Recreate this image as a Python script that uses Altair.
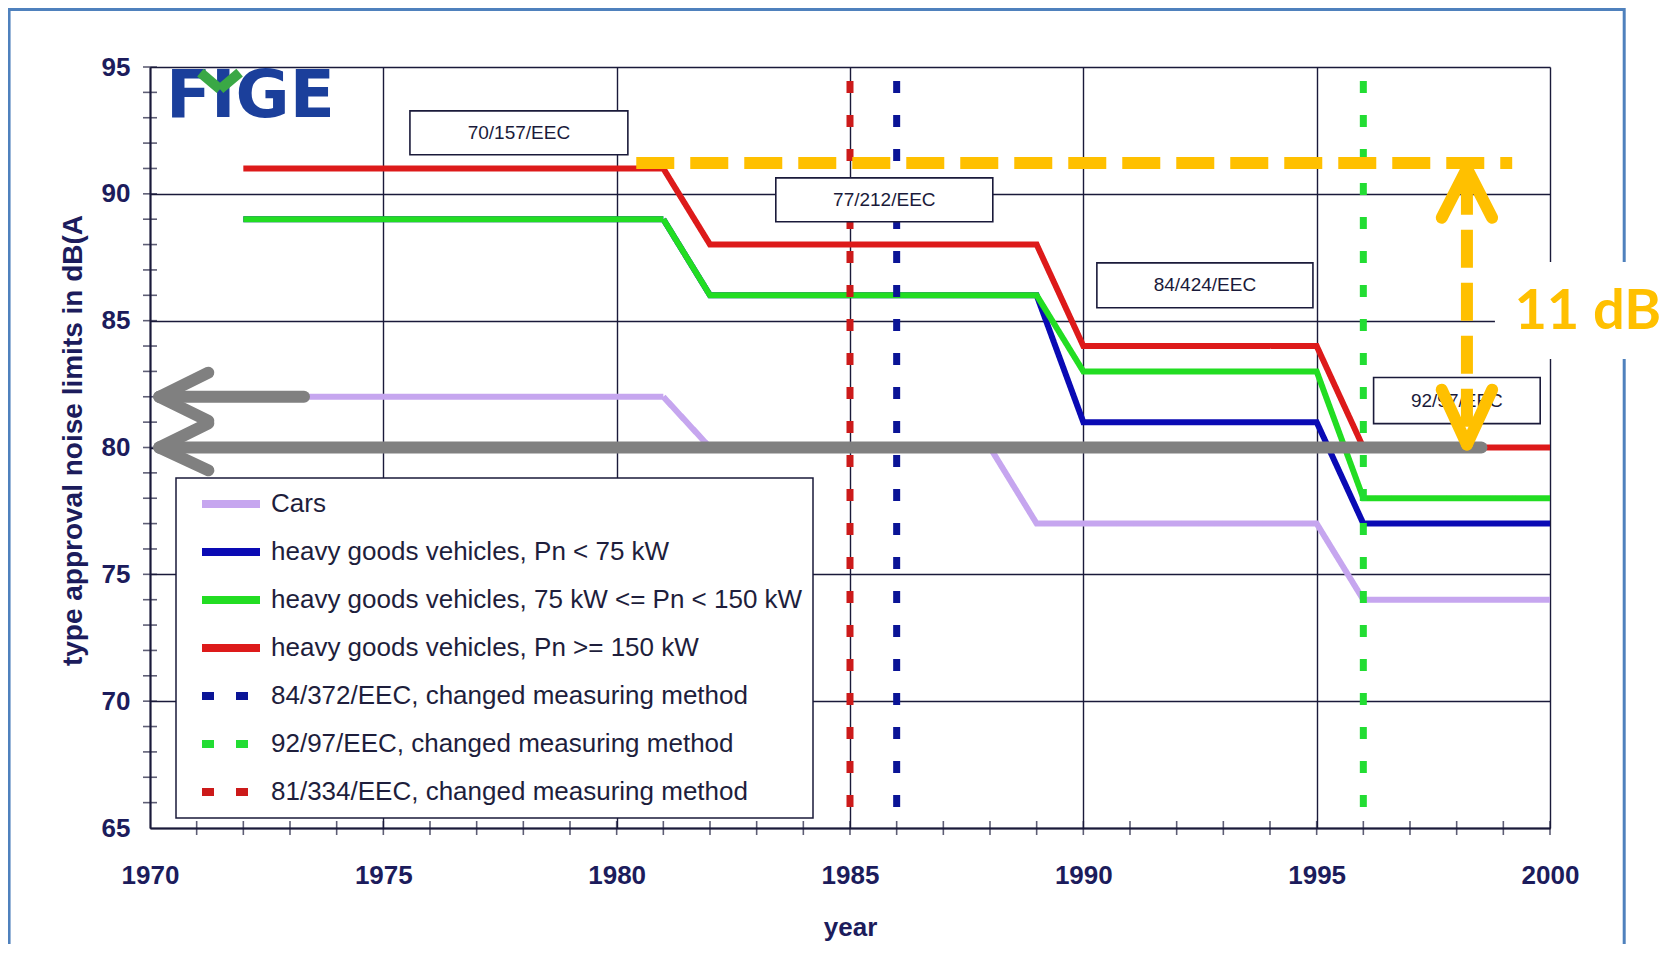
import altair as alt
import pandas as pd

# ---------------- data ----------------
series_names = [
    "Cars",
    "heavy goods vehicles, Pn < 75 kW",
    "heavy goods vehicles, 75 kW <= Pn < 150 kW",
    "heavy goods vehicles, Pn >= 150 kW",
    "84/372/EEC, changed measuring method",
    "92/97/EEC, changed measuring method",
    "81/334/EEC, changed measuring method",
]
series_colors = ["#c6a6ef", "#0a0ab4", "#22dd22", "#dd1a1a", "#0a1496", "#22dd33", "#cc1a1a"]
series_dash = [[1, 0], [1, 0], [1, 0], [1, 0], [12, 22], [12, 22], [12, 22]]

years_cars = [1972, 1981, 1982, 1988, 1989, 1995, 1996, 2000]
cars = [82, 82, 80, 80, 77, 77, 74, 74]
years_hgv = [1972, 1981, 1982, 1989, 1990, 1995, 1996, 2000]
hgv_small = [89, 89, 86, 86, 81, 81, 77, 77]
hgv_mid = [89, 89, 86, 86, 83, 83, 78, 78]
hgv_large = [91, 91, 88, 88, 84, 84, 80, 80]

method_years = [1986, 1996, 1985]
method_top = 94.45
method_bottom = 65

box_labels = ["70/157/EEC", "77/212/EEC", "84/424/EEC", "92/97/EEC"]
box_x0 = [1975.57, 1983.41, 1990.29, 1996.22]
box_x1 = [1980.24, 1988.06, 1994.92, 1999.79]
box_y0 = [91.54, 88.90, 85.51, 80.94]
box_y1 = [93.27, 90.63, 87.28, 82.76]

x_major = [1970, 1975, 1980, 1985, 1990, 1995, 2000]
y_major = [65, 70, 75, 80, 85, 90, 95]
x_minor = list(range(1971, 2001))
y_minor = list(range(66, 96))

# grey arrows (annotation)
grey_x = [1970.2, 1970.2, 1970.2, 1970.2, 1970.2, 1970.2]
grey_y = [80, 82, 82, 82, 80, 80]
grey_x2 = [1998.53, 1973.3, 1971.25, 1971.25, 1971.25, 1971.25]
grey_y2 = [80, 82, 82.95, 81.05, 80.95, 79.1]

# orange 11 dB annotation
orange_level = 91.22
orange_h = [1980.42, 1999.19]
orange_vx = 1998.22
orange_v = [90.67, 80.12]
orange_head_x = [1998.22, 1998.22, 1998.22, 1998.22]
orange_head_y = [91.0, 91.0, 80.12, 80.12]
orange_head_x2 = [1997.68, 1998.76, 1997.68, 1998.76]
orange_head_y2 = [89.06, 89.06, 82.28, 82.28]
note_text = "11 dB"
note_pos = (2000.81, 85.34)
note_bg = ([1998.82, 2003.5], [83.49, 87.31])

frame_x = [1966.98, 2001.59]
frame_y = [60.15, 97.27]

logo_text = "FIGE"
logo_pos = (1972.15, 93.03)
# green "V" on top of the logo's I
logo_v_x = [1971.08, 1971.92]
logo_v_x2 = [1971.50, 1971.50]
logo_v_y = [94.78, 94.78]
logo_v_y2 = [94.12, 94.12]

# ---------------- tables ----------------
rows = []
for name, xs_, ys_ in [
    (series_names[0], years_cars, cars),
    (series_names[1], years_hgv, hgv_small),
    (series_names[2], years_hgv, hgv_mid),
    (series_names[3], years_hgv, hgv_large),
]:
    for i, (a, b) in enumerate(zip(xs_, ys_)):
        rows.append({"series": name, "year": a, "value": b, "i": i})
lines_df = pd.DataFrame(rows)

methods_df = pd.DataFrame({
    "series": series_names[4:],
    "year": method_years,
    "top": [method_top] * 3,
    "bottom": [method_bottom] * 3,
})
boxes_df = pd.DataFrame({"label": box_labels, "x0": box_x0, "x1": box_x1, "y0": box_y0, "y1": box_y1})
boxes_df["xm"] = (boxes_df.x0 + boxes_df.x1) / 2
boxes_df["ym"] = (boxes_df.y0 + boxes_df.y1) / 2

xt_df = pd.DataFrame({"year": x_minor, "value": [65] * len(x_minor)})
yt_df = pd.DataFrame({"year": [1970] * len(y_minor), "value": y_minor})

grey_df = pd.DataFrame({"year": grey_x, "value": grey_y, "year2": grey_x2, "value2": grey_y2})
oh_df = pd.DataFrame({"year": [orange_h[0]], "year2": [orange_h[1]], "value": [orange_level], "value2": [orange_level]})
ov_df = pd.DataFrame({"year": [orange_vx], "year2": [orange_vx], "value": [orange_v[0]], "value2": [orange_v[1]]})
oa_df = pd.DataFrame({"year": orange_head_x, "value": orange_head_y, "year2": orange_head_x2, "value2": orange_head_y2})
bg_df = pd.DataFrame({"year": [note_bg[0][0]], "year2": [note_bg[0][1]], "value": [note_bg[1][0]], "value2": [note_bg[1][1]]})
note_df = pd.DataFrame({"year": [note_pos[0]], "value": [note_pos[1]], "t": [note_text]})
frame_df = pd.DataFrame({"year": [frame_x[0]], "year2": [frame_x[1]], "value": [frame_y[0]], "value2": [frame_y[1]]})
logo_df = pd.DataFrame({"year": [logo_pos[0]], "value": [logo_pos[1]], "t": [logo_text]})
logov_df = pd.DataFrame({"year": logo_v_x, "year2": logo_v_x2, "value": logo_v_y, "value2": logo_v_y2})

# ---------------- styling ----------------
NAVY = "#1c1c5c"
GRID = "#1a1a3a"
SANS = "Liberation Sans, Arial, sans-serif"

xs = alt.Scale(domain=[1970, 2000], nice=False, zero=False)
ys = alt.Scale(domain=[65, 95], nice=False, zero=False)

xax = alt.Axis(values=x_major, format="d", grid=True, gridColor=GRID, gridWidth=1.4, gridOpacity=1,
               ticks=False, domain=True, domainColor=GRID, domainWidth=2,
               labelFont=SANS, labelFontSize=26, labelFontWeight="bold", labelColor=NAVY,
               labelPadding=34, labelFlush=False, labelOverlap=False,
               title="year", titleFont=SANS, titleFontSize=26, titleFontWeight="bold",
               titleColor=NAVY, titleY=99, titleBaseline="middle")
yax = alt.Axis(values=y_major, format="d", grid=True, gridColor=GRID, gridWidth=1.4, gridOpacity=1,
               ticks=False, domain=True, domainColor=GRID, domainWidth=2,
               labelFont=SANS, labelFontSize=26, labelFontWeight="bold", labelColor=NAVY,
               labelPadding=20, labelFlush=False, labelOverlap=False,
               title="type approval noise limits in dB(A", titleFont=SANS, titleFontSize=28,
               titleFontWeight="bold", titleColor=NAVY, titleX=-77, titleY=373, titleAngle=270,
               titleAlign="center", titleBaseline="middle")


def X(f="year"):
    return alt.X(f"{f}:Q", scale=xs, axis=xax)


def Y(f="value"):
    return alt.Y(f"{f}:Q", scale=ys, axis=yax)


legend = alt.Legend(title=None, orient="none", legendX=26, legendY=411, symbolType="stroke",
                    symbolSize=3364, symbolStrokeWidth=8, labelFont=SANS, labelFontSize=26,
                    labelColor="#1e1e3c", labelLimit=0, padding=10, strokeColor=GRID,
                    fillColor="white", clipHeight=32, rowPadding=16, labelOffset=7,
                    symbolOffset=12)

color = alt.Color("series:N", scale=alt.Scale(domain=series_names, range=series_colors), legend=legend)
dash = alt.StrokeDash("series:N", scale=alt.Scale(domain=series_names, range=series_dash), legend=legend)

frame = alt.Chart(frame_df).mark_rect(fill="transparent", stroke="#4f81bd", strokeWidth=3).encode(
    x=X(), x2="year2:Q", y=Y(), y2="value2:Q")

logo = alt.Chart(logo_df).mark_text(font="DejaVu Sans", fontSize=66, fontWeight="bold", color="#1b3f9b",
                                   align="center", baseline="alphabetic").encode(x=X(), y=Y(), text="t:N")
logo_v = alt.Chart(logov_df).mark_rule(color="#3aa845", strokeWidth=10, strokeCap="butt").encode(
    x=X(), x2="year2:Q", y=Y(), y2="value2:Q")

line_layers = []
for name in series_names[:4]:
    line_layers.append(
        alt.Chart(lines_df).transform_filter(alt.datum.series == name)
        .mark_line(strokeWidth=6, strokeJoin="miter")
        .encode(x=X(), y=Y(), color=color, strokeDash=dash, order="i:Q")
    )

methods = alt.Chart(methods_df).mark_rule(strokeWidth=7).encode(
    x=X(), y=Y("top"), y2="bottom:Q", color=color, strokeDash=dash)

boxes = alt.Chart(boxes_df).mark_rect(fill="white", stroke=GRID, strokeWidth=1.6).encode(
    x=X("x0"), x2="x1:Q", y=Y("y0"), y2="y1:Q")
box_text = alt.Chart(boxes_df).mark_text(font=SANS, fontSize=19, color="#1a1a3a",
                                        align="center", baseline="middle").encode(
    x=X("xm"), y=Y("ym"), text="label:N")

xticks = alt.Chart(xt_df).mark_tick(orient="vertical", size=14, thickness=1.6, color=GRID).encode(x=X(), y=Y())
yticks = alt.Chart(yt_df).mark_tick(orient="horizontal", size=14, thickness=1.6, color=GRID).encode(x=X(), y=Y())

grey = alt.Chart(grey_df).mark_rule(color="#808080", strokeWidth=12, strokeCap="round").encode(
    x=X(), y=Y(), x2="year2:Q", y2="value2:Q")

orange_h_line = alt.Chart(oh_df).mark_rule(color="#FFC000", strokeWidth=12, strokeDash=[38, 16]).encode(
    x=X(), y=Y(), x2="year2:Q", y2="value2:Q")
orange_v_line = alt.Chart(ov_df).mark_rule(color="#FFC000", strokeWidth=12, strokeDash=[38, 15]).encode(
    x=X(), y=Y(), x2="year2:Q", y2="value2:Q")
orange_heads = alt.Chart(oa_df).mark_rule(color="#FFC000", strokeWidth=12, strokeCap="round").encode(
    x=X(), y=Y(), x2="year2:Q", y2="value2:Q")

note_bg_rect = alt.Chart(bg_df).mark_rect(fill="white").encode(x=X(), x2="year2:Q", y=Y(), y2="value2:Q")
note = alt.Chart(note_df).mark_text(font="Lato, Open Sans, sans-serif", fontSize=56, fontWeight="bold",
                                   color="#FFC000", align="center", baseline="middle").encode(
    x=X(), y=Y(), text="t:N")

chart = alt.layer(
    frame, logo, logo_v, *line_layers, methods, boxes, box_text, xticks, yticks,
    grey, orange_h_line, orange_v_line, orange_heads, note_bg_rect, note
).properties(
    width=1400, height=761,
    autosize=alt.AutoSizeParams(type="none"),
    padding={"left": 142, "top": 59, "right": 115, "bottom": 116},
).configure_view(stroke=None).configure_legend(strokeWidth=1.5)

chart.save("out.html", embed_options={"renderer": "svg", "actions": False})
